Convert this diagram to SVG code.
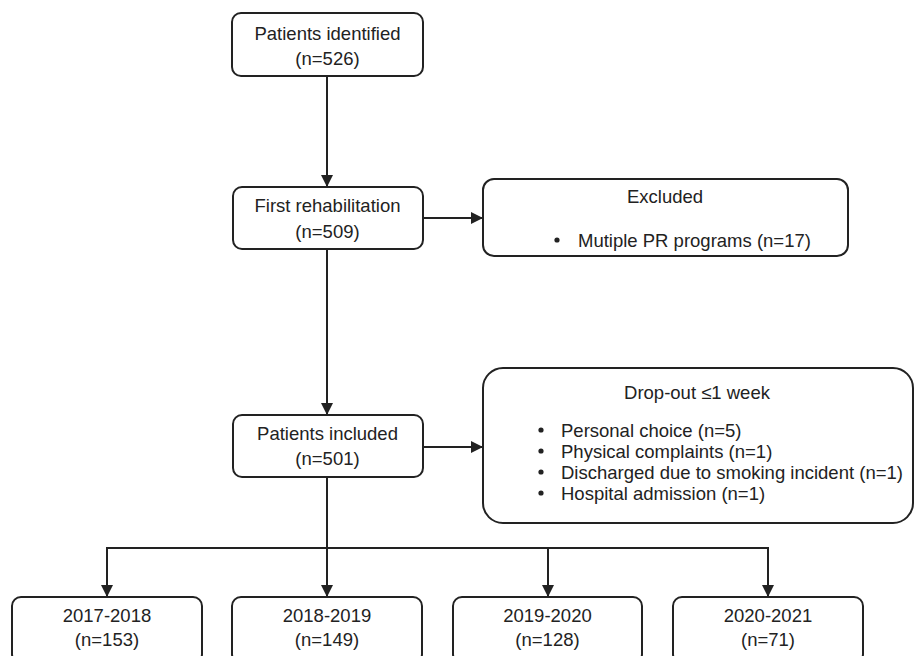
<svg xmlns="http://www.w3.org/2000/svg" width="917" height="656" viewBox="0 0 917 656">
<style>
.box{fill:#fff;stroke:#222;stroke-width:2}
.t{font-family:"Liberation Sans",Arial,sans-serif;font-size:18.5px;fill:#222}
.c{text-anchor:middle}
.ln{fill:none;stroke:#222;stroke-width:2}
.dot{fill:#222}
</style>
<defs>
<marker id="ah" viewBox="0 0 12 12" refX="12" refY="6" markerWidth="12" markerHeight="12" markerUnits="userSpaceOnUse" orient="auto">
<path d="M0,0 L12,6 L0,12 Z" fill="#222"/>
</marker>
</defs>
<rect width="917" height="656" fill="#fff"/>
<g id="connectors">
<line class="ln" x1="327" y1="76" x2="327" y2="187" marker-end="url(#ah)"/>
<line class="ln" x1="327" y1="249" x2="327" y2="415" marker-end="url(#ah)"/>
<line class="ln" x1="423" y1="218" x2="483" y2="218" marker-end="url(#ah)"/>
<line class="ln" x1="423" y1="447" x2="483" y2="447" marker-end="url(#ah)"/>
<line class="ln" x1="327" y1="477" x2="327" y2="597" marker-end="url(#ah)"/>
<polyline class="ln" points="107,597 107,548 768,548 768,597"/>
<line class="ln" x1="107" y1="548" x2="107" y2="597" marker-end="url(#ah)"/>
<line class="ln" x1="548" y1="548" x2="548" y2="597" marker-end="url(#ah)"/>
<line class="ln" x1="768" y1="548" x2="768" y2="597" marker-end="url(#ah)"/>
</g>
<g id="identified">
<rect class="box" x="232" y="13" width="191" height="63" rx="9"/>
<text class="t c" x="327.5" y="39.5">Patients identified</text>
<text class="t c" x="327.5" y="64.5">(n=526)</text>
</g>
<g id="first">
<rect class="box" x="233" y="187" width="190" height="62" rx="9"/>
<text class="t c" x="327.5" y="212">First rehabilitation</text>
<text class="t c" x="327.5" y="237.5">(n=509)</text>
</g>
<g id="excluded">
<rect class="box" x="483" y="179" width="365" height="77" rx="11"/>
<text class="t c" x="665" y="203">Excluded</text>
<circle class="dot" cx="557" cy="240" r="2.6"/>
<text class="t" x="578" y="246.5">Mutiple PR programs (n=17)</text>
</g>
<g id="included">
<rect class="box" x="233" y="415" width="190" height="62" rx="9"/>
<text class="t c" x="327.5" y="440">Patients included</text>
<text class="t c" x="327.5" y="465">(n=501)</text>
</g>
<g id="dropout">
<rect class="box" x="483" y="368" width="430" height="155" rx="20"/>
<text class="t c" x="697" y="398.5">Drop-out ≤1 week</text>
<circle class="dot" cx="541" cy="430" r="2.6"/>
<text class="t" x="561" y="436.5">Personal choice (n=5)</text>
<circle class="dot" cx="541" cy="451" r="2.6"/>
<text class="t" x="561" y="457.5">Physical complaints (n=1)</text>
<circle class="dot" cx="541" cy="472" r="2.6"/>
<text class="t" x="561" y="478.5">Discharged due to smoking incident (n=1)</text>
<circle class="dot" cx="541" cy="493" r="2.6"/>
<text class="t" x="561" y="499.5">Hospital admission (n=1)</text>
</g>
<g id="y2017">
<rect class="box" x="12" y="597" width="190" height="66" rx="9"/>
<text class="t c" x="107" y="621.5">2017-2018</text>
<text class="t c" x="107" y="645.5">(n=153)</text>
</g>
<g id="y2018">
<rect class="box" x="232" y="597" width="190" height="66" rx="9"/>
<text class="t c" x="327" y="621.5">2018-2019</text>
<text class="t c" x="327" y="645.5">(n=149)</text>
</g>
<g id="y2019">
<rect class="box" x="453" y="597" width="189" height="66" rx="9"/>
<text class="t c" x="547.5" y="621.5">2019-2020</text>
<text class="t c" x="547.5" y="645.5">(n=128)</text>
</g>
<g id="y2020">
<rect class="box" x="673" y="597" width="190" height="66" rx="9"/>
<text class="t c" x="768" y="621.5">2020-2021</text>
<text class="t c" x="768" y="645.5">(n=71)</text>
</g>
</svg>
